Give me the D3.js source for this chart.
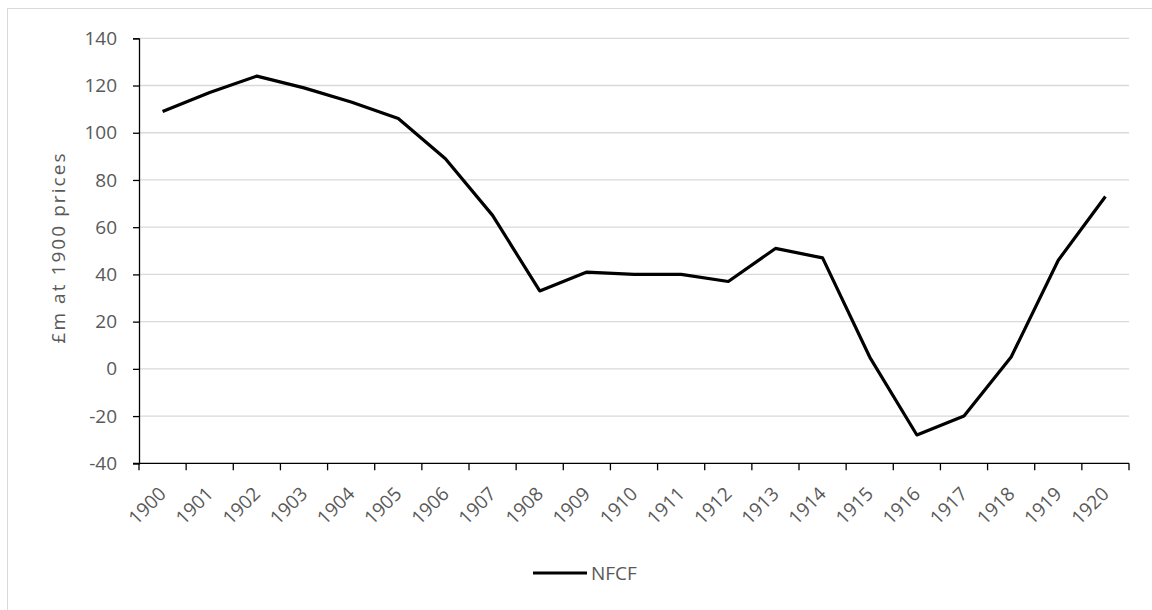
<!DOCTYPE html>
<html><head><meta charset="utf-8">
<script src="https://cdn.jsdelivr.net/npm/d3@7"></script>
<style>
html,body{margin:0;padding:0;background:#fff;}
text{font-family:"Open Sans","Noto Sans",sans-serif;fill:#595959;}
</style></head>
<body><svg id="chart" width="1152" height="610"></svg>
<script>
const years = ["1900","1901","1902","1903","1904","1905","1906","1907","1908","1909","1910","1911","1912","1913","1914","1915","1916","1917","1918","1919","1920"];
const nfcf = [109,117,124,119,113,106,89,65,33,41,40,40,37,51,47,5,-28,-20,5,46,73];
const yTicks = [-40,-20,0,20,40,60,80,100,120,140];
const seriesName = "NFCF";
const yTitle = "£m at 1900 prices";

(function(){
const svg = d3.select("#chart");
svg.append("rect").attr("x",7.5).attr("y",8.5).attr("width",1160).attr("height",620)
  .attr("fill","none").attr("stroke","#d9d9d9").attr("stroke-width",1);

const pL=139, pR=1129, pT=38.3, pB=463.3;
const x = d3.scaleBand().domain(years).range([pL,pR]).paddingInner(0).paddingOuter(0);
const y = d3.scaleLinear().domain([-40,140]).range([pB,pT]);

svg.append("g").selectAll("line").data(yTicks.filter(d=>d!==-40)).join("line")
  .attr("x1",pL).attr("x2",pR).attr("y1",d=>y(d)).attr("y2",d=>y(d))
  .attr("stroke","#d9d9d9").attr("stroke-width",1.3);

const yAxis = d3.axisLeft(y).tickValues(yTicks).tickSize(6).tickPadding(16).tickFormat(d=>String(d));
const gy = svg.append("g").attr("transform",`translate(${pL},0)`).call(yAxis);
gy.attr("font-size",null).attr("font-family",null);
gy.select(".domain").attr("stroke","#000").attr("stroke-width",1.3);
gy.selectAll(".tick line").attr("stroke","#000").attr("stroke-width",1.3);
gy.selectAll(".tick text").style("font-size","19px").attr("fill","#595959");

const gx = svg.append("g").attr("transform",`translate(0,${pB})`);
gx.append("line").attr("x1",pL-6).attr("x2",pR).attr("y1",0).attr("y2",0)
  .attr("stroke","#000").attr("stroke-width",1.3);
const boundaries = years.map(d=>x(d)).concat([pR]);
gx.selectAll("line.tk").data(boundaries).join("line").attr("class","tk")
  .attr("x1",d=>d).attr("x2",d=>d).attr("y1",0).attr("y2",7)
  .attr("stroke","#000").attr("stroke-width",1.3);
gx.selectAll("text").data(years).join("text")
  .attr("transform",d=>`translate(${x(d)+x.bandwidth()/2},${27}) rotate(-45)`)
  .attr("text-anchor","end").attr("dy","0.35em")
  .style("font-size","19px").text(d=>d);

svg.append("text").attr("transform",`translate(65,248.5) rotate(-90)`)
  .attr("text-anchor","middle").style("font-size","19px")
  .attr("textLength",190).attr("lengthAdjust","spacing").text(yTitle);

const line = d3.line().x((d,i)=>x(years[i])+x.bandwidth()/2).y(d=>y(d));
svg.append("path").datum(nfcf).attr("d",line).attr("fill","none")
  .attr("stroke","#000").attr("stroke-width",3.2).attr("stroke-linejoin","round");

const lg = svg.append("g");
lg.append("line").attr("x1",533).attr("x2",587).attr("y1",573).attr("y2",573)
  .attr("stroke","#000").attr("stroke-width",3.2);
lg.append("text").attr("x",591).attr("y",573).attr("dy","0.35em").style("font-size","19px").text(seriesName);
})();
</script></body></html>
